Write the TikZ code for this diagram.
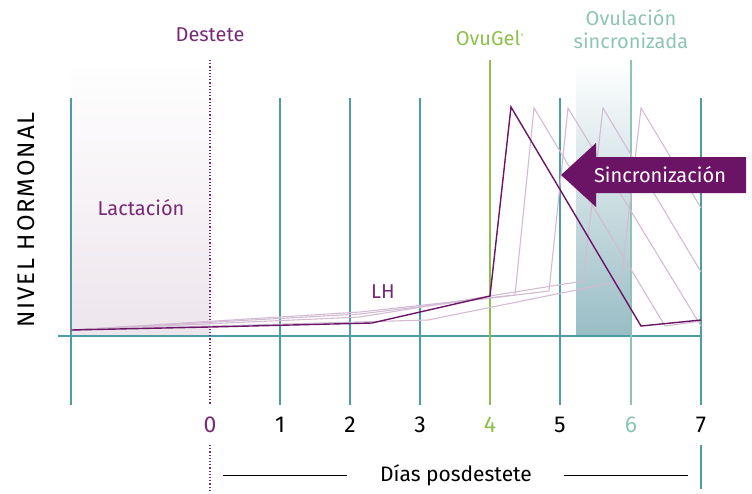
\documentclass[tikz,border=0pt]{standalone}
\usepackage{fontspec}
\setmainfont{Fira Sans}
\usetikzlibrary{positioning}
\definecolor{gridcol}{HTML}{4E9CA6}
\definecolor{lhcol}{HTML}{6B1466}
\definecolor{txtcol}{HTML}{772A76}
\definecolor{lhpale}{HTML}{D3BBD4}
\definecolor{ovucol}{HTML}{8DC04A}
\definecolor{ovulcol}{HTML}{8DC4B6}
\definecolor{lactcol}{HTML}{EDE5EC}
\definecolor{synccol}{HTML}{99BDC5}

\begin{document}
\begin{tikzpicture}[x=1pt,y=-1pt,font=\fontsize{20}{23}\selectfont]
            \useasboundingbox (0,0) rectangle (752,493);
            \shade[top color=white,bottom color=lactcol] (71,60) rectangle (210,336);
            \shade[top color=white,bottom color=synccol] (576,60) rectangle (631,336);
            \begin{scope}[every path/.style={draw=gridcol,line width=1.6pt}]
            \foreach \x in {71,280,350,420,560,701}
                \draw (\x,98) -- (\x,405);
            \draw (58,336) -- (701,336);
            \draw (701,445) -- (701,489);
            \end{scope}
            \draw[ovucol,line width=1.6pt] (490,60) -- (490,405);
            \draw[ovulcol,line width=1.3pt] (631,60) -- (631,405);
            \draw[txtcol,line width=1.2pt,dotted] (210,60) -- (210,405);
            \draw[txtcol,line width=1.2pt,dotted] (210,445) -- (210,490);
            \begin{scope}[every path/.style={draw=lhpale,line width=1.1pt}]
            \draw (71,330) -- (360,312) -- (515,295) -- (534,108) -- (665,326) -- (701,321);
            \draw (71,330) -- (360,314) -- (549,291) -- (568,108) -- (701,326);
            \draw (71,330) -- (360,317) -- (583,281) -- (603,108) -- (701,272);
            \draw (71,330) -- (428,320) -- (621,281) -- (641,108) -- (701,208);
            \end{scope}
            \draw[lhcol,line width=1.4pt] (71,330) -- (210,327) -- (372,323) -- (490,296) -- (511,107) -- (641,326) -- (701,320);
            \fill[lhcol] (746,157) -- (596,157) -- (596,143) -- (561,175) -- (596,207) -- (596,193) -- (746,193) -- cycle;
            \begin{scope}[every node/.style={inner sep=0pt}]
            \node[txtcol] (destete) at (210,35) {Destete};
            \node[ovucol] (ovugel) at (490,38) {OvuGel\textsuperscript{\tiny\textregistered}};
            \node[ovulcol,align=center] (ovul) at (631,29) {Ovulación\\sincronizada};
            \node[txtcol] (lact) at (141,208) {Lactación};
            \node[txtcol] (lh) at (383,292) {LH};
            \node[white] (sinc) at (660,175) {Sincronización};
            \node[rotate=90,font=\fontsize{24}{26}\selectfont\addfontfeature{LetterSpace=8}] (nivel) at (26,220) {NIVEL HORMONAL};
            \node[font=\fontsize{21}{24}\selectfont] (dias) at (456,475) {Días posdestete};
            \end{scope}
            \begin{scope}[every node/.style={inner sep=0pt,font=\fontsize{23}{26}\selectfont}]
            \node[txtcol] (t0) at (210,425) {0};
            \node (t1) at (280,425) {1};
            \node (t2) at (350,425) {2};
            \node (t3) at (420,425) {3};
            \node[ovucol] (t4) at (490,425) {4};
            \node (t5) at (560,425) {5};
            \node[ovulcol] (t6) at (631,425) {6};
            \node (t7) at (701,425) {7};
            \end{scope}
            \draw[line width=1pt] (dias.west) ++(-33,0) -- ++(-124,0);
            \draw[line width=1pt] (dias.east) ++(32,0) -- ++(124,0);
            \end{tikzpicture}
\end{document}
